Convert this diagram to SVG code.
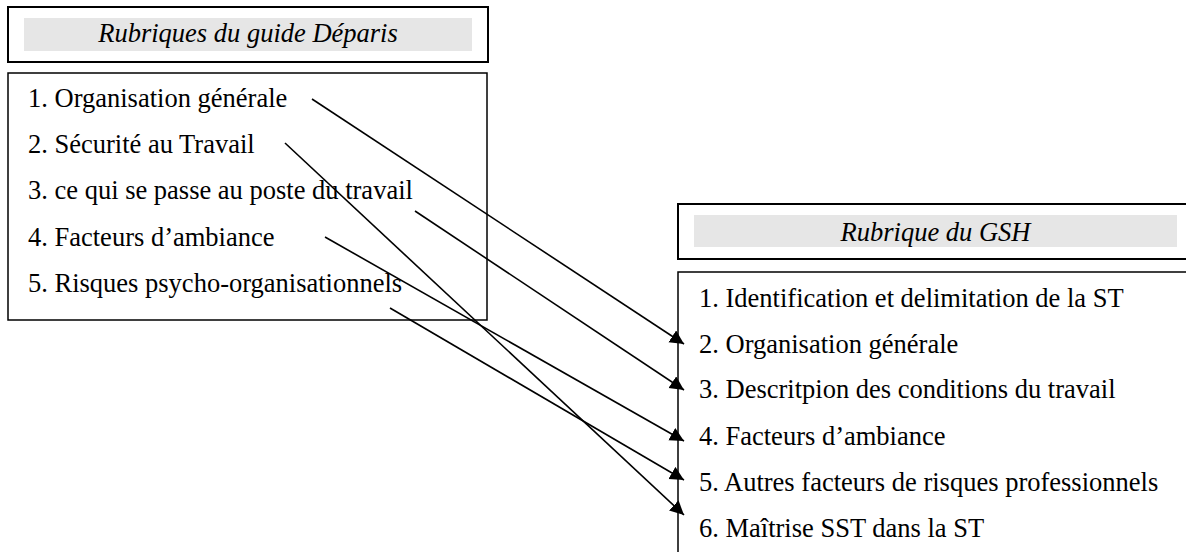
<svg xmlns="http://www.w3.org/2000/svg" width="1186" height="552" viewBox="0 0 1186 552">
<style>
.title{fill:#fff;stroke:#000;stroke-width:2}
.band{fill:#e6e6e6;stroke:none}
.box{fill:#fff;stroke:#000;stroke-width:1.5}
.tt{font-family:"Liberation Serif","Times New Roman",serif;font-style:italic;font-size:26.5px;fill:#000;text-anchor:middle}
.it{font-family:"Liberation Serif","Times New Roman",serif;font-size:26.5px;fill:#000}
.conn line{stroke:#000;stroke-width:1.6;marker-end:url(#ah)}
</style>
<defs>
<marker id="ah" markerUnits="userSpaceOnUse" markerWidth="15" markerHeight="15" refX="14" refY="7" orient="auto">
<path d="M0,0 L14,7 L0,14 z" fill="#000"/>
</marker>
</defs>
<rect width="1186" height="552" fill="#fff"/>
<g id="left-title">
<rect class="title" x="8" y="7" width="480" height="55"/>
<rect class="band" x="24" y="18" width="448" height="33"/>
<text class="tt" x="248" y="42">Rubriques du guide Déparis</text>
</g>
<g id="left-list">
<rect class="box" x="8" y="73" width="479" height="247"/>
<text class="it" x="28" y="107">1. Organisation générale</text>
<text class="it" x="28" y="153">2. Sécurité au Travail</text>
<text class="it" x="28" y="199">3. ce qui se passe au poste du travail</text>
<text class="it" x="28" y="246">4. Facteurs d’ambiance</text>
<text class="it" x="28" y="292">5. Risques psycho-organisationnels</text>
</g>
<g id="right-title">
<rect class="title" x="678" y="204" width="530" height="55"/>
<rect class="band" x="694" y="215" width="483" height="32"/>
<text class="tt" x="935.5" y="241">Rubrique du GSH</text>
</g>
<g id="right-list">
<rect class="box" x="678" y="272" width="530" height="300"/>
<text class="it" x="699" y="307">1. Identification et delimitation de la ST</text>
<text class="it" x="699" y="353">2. Organisation générale</text>
<text class="it" x="699" y="398">3. Descritpion des conditions du travail</text>
<text class="it" x="699" y="445">4. Facteurs d’ambiance</text>
<text class="it" x="699" y="491">5. Autres facteurs de risques professionnels</text>
<text class="it" x="699" y="537">6. Maîtrise SST dans la ST</text>
</g>
<g id="connectors" class="conn">
<line x1="312" y1="99" x2="684" y2="344"/>
<line x1="285" y1="143" x2="684" y2="515"/>
<line x1="415" y1="211" x2="684" y2="390"/>
<line x1="325" y1="237" x2="684" y2="441"/>
<line x1="390" y1="308" x2="684" y2="480"/>
</g>
</svg>
